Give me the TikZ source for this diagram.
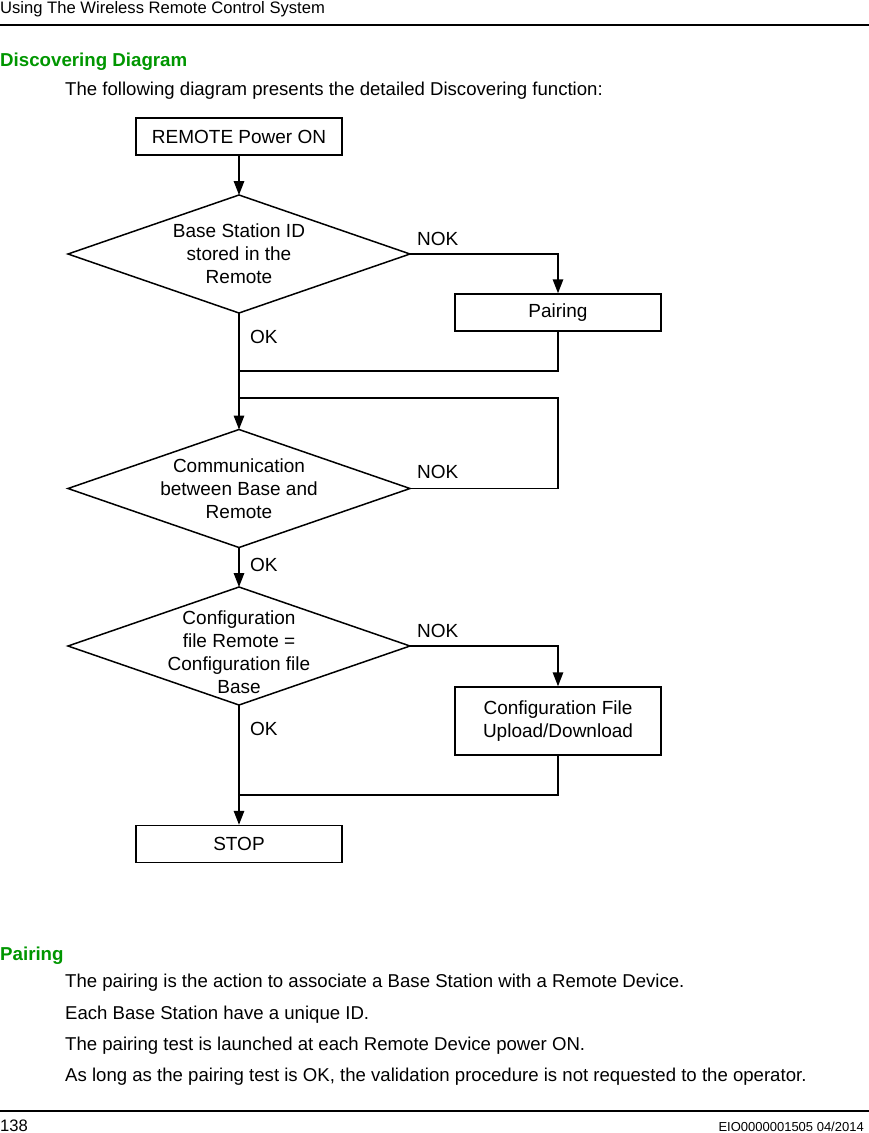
\documentclass[tikz,border=0pt]{standalone}
\usepackage{fontspec}
\setmainfont{Liberation Sans}
\usetikzlibrary{arrows.meta,shapes.geometric}
\definecolor{headgreen}{RGB}{0,150,0}
\begin{document}
\begin{tikzpicture}[x=1pt,y=-1pt,
  box/.style={draw,line width=1.5pt,minimum width=206pt,minimum height=37pt,inner sep=0pt,font=\fontsize{19}{23}\selectfont,align=center},
  dia/.style={draw,diamond,line width=1.5pt,minimum width=342pt,minimum height=118pt,inner sep=0pt,outer sep=0pt},
  dtext/.style={font=\fontsize{19}{23}\selectfont,align=center,inner sep=0pt},
  lbl/.style={font=\fontsize{19}{23}\selectfont,anchor=base west,inner sep=0pt},
  conn/.style={line width=1.5pt},
  arr/.style={conn,-{Triangle[length=14pt,width=10.5pt]}},
  txt/.style={anchor=base west,inner sep=0pt,font=\fontsize{18.6}{22}\selectfont},
  head/.style={anchor=base west,inner sep=0pt,font=\fontsize{18.7}{22}\selectfont\bfseries,text=headgreen},
  rule/.style={line width=1.2pt}
]
\useasboundingbox (0,0) rectangle (869,1133);
% page header
\node[txt,font=\fontsize{16.6}{20}\selectfont] (hdr) at (0,13) {Using The Wireless Remote Control System};
\draw[rule] (0,25) -- (869,25);
\node[head] (h1) at (0,66) {Discovering Diagram};
\node[txt] (intro) at (65,95) {The following diagram presents the detailed Discovering function:};
% flowchart
\node[box] (start) at (239,136.5) {REMOTE Power ON};
\node[dia] (d1) at (239,254) {};
\node[dtext] (d1t) at (239,254) {Base Station ID\\stored in the\\Remote};
\node[box] (pair) at (558,312.5) {Pairing};
\node[dia] (d2) at (239,488.5) {};
\node[dtext] (d2t) at (239,488.5) {Communication\\between Base and\\Remote};
\node[dia] (d3) at (239,646) {};
\node[dtext] (d3t) at (239,652) {Configuration\\file Remote =\\Configuration file\\Base};
\node[box,minimum height=68pt] (cfg) at (558,721) {Configuration File\\Upload/Download};
\node[box] (stop) at (239,844) {STOP};
% labels
\node[lbl] (nok1) at (417,245) {NOK};
\node[lbl] (ok1) at (250,343) {OK};
\node[lbl] (nok2) at (417,478) {NOK};
\node[lbl] (ok2) at (250,571) {OK};
\node[lbl] (nok3) at (417,637) {NOK};
\node[lbl] (ok3) at (250,735) {OK};
% junctions
\coordinate (j1) at (239,371);
\coordinate (c2) at (558,398);
\coordinate (j2) at (239,398);
\coordinate (j3) at (239,795);
% connectors
\draw[arr] (start.south) -- (d1.north);
\draw[arr] (d1.east) -| (pair.north);
\draw[conn] (pair.south) |- (j1);
\draw[arr] (d1.south) -- (d2.north);
\draw[conn] (d2.east) -| (c2) -- (j2);
\draw[arr] (d2.south) -- (d3.north);
\draw[arr] (d3.east) -| (cfg.north);
\draw[conn] (cfg.south) |- (j3);
\draw[arr] (d3.south) -- (stop.north);
% lower text
\node[head] (h2) at (0,960) {Pairing};
\node[txt] (p1) at (65,987) {The pairing is the action to associate a Base Station with a Remote Device.};
\node[txt] (p2) at (65,1019) {Each Base Station have a unique ID.};
\node[txt] (p3) at (65,1050) {The pairing test is launched at each Remote Device power ON.};
\node[txt] (p4) at (65,1081) {As long as the pairing test is OK, the validation procedure is not requested to the operator.};
\draw[rule] (0,1111) -- (869,1111);
\node[txt,font=\fontsize{16.6}{20}\selectfont] (pg) at (0,1131) {138};
\node[anchor=base east,inner sep=0pt,font=\fontsize{13}{15}\selectfont] (doc) at (864,1131) {EIO0000001505 04/2014};
\end{tikzpicture}
\end{document}
